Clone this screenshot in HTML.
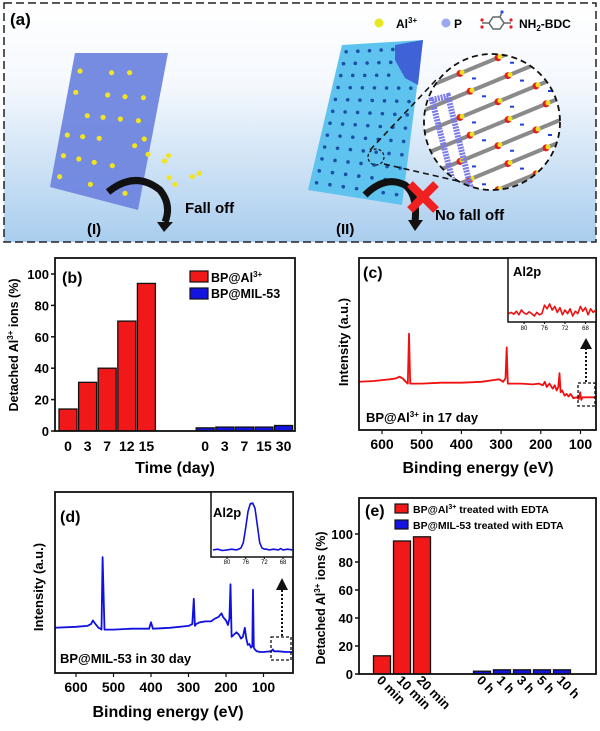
<!DOCTYPE html>
<html><head><meta charset="utf-8">
<style>
html,body{margin:0;padding:0;background:#fff;}
svg{display:block;font-family:"Liberation Sans",Arial,sans-serif;font-weight:bold;}
</style></head>
<body>
<svg id="fig" width="600" height="731" viewBox="0 0 600 731" xmlns="http://www.w3.org/2000/svg">
<defs>
<linearGradient id="bgA" x1="0" y1="0" x2="0" y2="1">
<stop offset="0" stop-color="#ffffff"/><stop offset="0.35" stop-color="#f4f8fd"/><stop offset="1" stop-color="#a9cdee"/>
</linearGradient>
<clipPath id="zoomClip"><circle cx="492" cy="122" r="68"/></clipPath>
<clipPath id="clipB"><rect x="55" y="258" width="240" height="173"/></clipPath>
<clipPath id="clipC"><rect x="359" y="258" width="237" height="172"/></clipPath>
<clipPath id="clipD"><rect x="55" y="492" width="238" height="181"/></clipPath>
<clipPath id="clipCi"><rect x="508" y="258" width="88" height="64"/></clipPath>
<clipPath id="clipDi"><rect x="211" y="492" width="82" height="65"/></clipPath>
<marker id="arrowHead" markerWidth="6" markerHeight="6" refX="3" refY="3" orient="auto"><path d="M0,0 L6,3 L0,6 z" fill="#000"/></marker>
</defs>

<!-- Panel (a) illustration -->
<g id="panelA">
<rect x="4" y="3" width="592" height="239" fill="url(#bgA)" stroke="#222" stroke-width="1.5" stroke-dasharray="8,4"/>
<text x="10" y="25" font-size="17">(a)</text>
<polygon points="75,53 168,53 138,210 50,187" fill="#6f86de" opacity="0.95"/>
<g id="leftDots"></g>
<path d="M108,192 Q135,170 160,190 Q172,205 165,222" fill="none" stroke="#111" stroke-width="7"/>
<polygon points="157,222 173,222 164,232" fill="#111"/>
<text x="185" y="213" font-size="15">Fall off</text>
<text x="87" y="234" font-size="15">(I)</text>

<polygon points="342,45 423,40 402,205 308,190" fill="#5ec3ef"/>
<polygon points="395,45 423,40 418,85 405,78 395,60" fill="#3f63d6"/>
<g id="rightDots"></g>
<circle cx="376" cy="157" r="8" fill="none" stroke="#111" stroke-width="1.2" stroke-dasharray="3,2"/>
<line x1="370" y1="150" x2="436" y2="80" stroke="#111" stroke-width="1.5" stroke-dasharray="6,4"/>
<line x1="384" y1="164" x2="462" y2="182" stroke="#111" stroke-width="1.5" stroke-dasharray="6,4"/>
<g clip-path="url(#zoomClip)">
<circle cx="492" cy="122" r="68" fill="#ffffff"/>
<g id="strands"></g>
</g>
<circle cx="492" cy="122" r="68" fill="none" stroke="#111" stroke-width="1.8" stroke-dasharray="6,4"/>
<path d="M365,195 Q385,175 405,185 Q418,195 415,222" fill="none" stroke="#111" stroke-width="7"/>
<polygon points="408,220 423,220 415,231" fill="#111"/>
<g>
<line x1="410" y1="184" x2="436" y2="210" stroke="#f02020" stroke-width="8"/>
<line x1="436" y1="184" x2="410" y2="210" stroke="#f02020" stroke-width="8"/>
</g>
<text x="435" y="220" font-size="15">No fall off</text>
<text x="336" y="234" font-size="15">(II)</text>
<circle cx="379" cy="23" r="4.5" fill="#e8e820"/>
<text x="396" y="28" font-size="12">Al<tspan font-size="8" dy="-5">3+</tspan></text>
<circle cx="446" cy="23" r="4.5" fill="#9aa8f0"/>
<text x="454" y="28" font-size="12">P</text>
<g stroke="#666" stroke-width="1.5" fill="none">
<polygon points="493,17 500,17 504,23 500,29 493,29 489,23"/>
<line x1="482" y1="23" x2="489" y2="23"/><line x1="504" y1="23" x2="511" y2="23"/><line x1="500" y1="17" x2="502" y2="12"/>
<circle cx="482" cy="20" r="1.6" fill="#e02020" stroke="none"/><circle cx="482" cy="27" r="1.6" fill="#e02020" stroke="none"/>
<circle cx="511" cy="20" r="1.6" fill="#e02020" stroke="none"/><circle cx="511" cy="27" r="1.6" fill="#e02020" stroke="none"/>
<circle cx="502" cy="12" r="1.6" fill="#3050e0" stroke="none"/>
</g>
<text x="519" y="28" font-size="12">NH<tspan font-size="8" dy="3">2</tspan><tspan dy="-3">-BDC</tspan></text>
</g>

<!-- Panel (b) -->
<g id="panelB">
<g id="bBars" clip-path="url(#clipB)"></g>
<rect x="55" y="258" width="240" height="173" fill="none" stroke="#111" stroke-width="1.8"/>
<g id="bAxes"></g>
<text x="62" y="283" font-size="16">(b)</text>
<rect x="190" y="271" width="18" height="11" fill="#f01818" stroke="#111" stroke-width="1.2"/>
<text x="211" y="282" font-size="12.5">BP@Al<tspan font-size="8" dy="-5">3+</tspan></text>
<rect x="190" y="288" width="18" height="11" fill="#1414e0" stroke="#111" stroke-width="1.2"/>
<text x="211" y="298" font-size="12.5">BP@MIL-53</text>
<text x="175" y="473" font-size="16" text-anchor="middle">Time  (day)</text>
<text transform="translate(18,345) rotate(-90)" font-size="12.5" text-anchor="middle">Detached Al<tspan font-size="8" dy="-5">3+</tspan><tspan dy="5"> ions  (%)</tspan></text>
</g>

<!-- Panel (c) -->
<g id="panelC">
<g id="cLine" clip-path="url(#clipC)"></g>
<rect x="359" y="258" width="237" height="172" fill="none" stroke="#111" stroke-width="1.8"/>
<g id="cAxes"></g>
<text x="363" y="278" font-size="16">(c)</text>
<rect x="508" y="258" width="88" height="64" fill="#fff" stroke="#111" stroke-width="1.5"/>
<g id="cInset" clip-path="url(#clipCi)"></g>
<g id="cInsetAxes"></g>
<text x="513" y="276" font-size="13">Al2p</text>
<rect x="578" y="383" width="17" height="23" fill="none" stroke="#111" stroke-width="1.3" stroke-dasharray="3,2"/>
<line x1="586" y1="382" x2="586" y2="347" stroke="#111" stroke-width="2" stroke-dasharray="2,2"/>
<polygon points="580,349 592,349 586,338" fill="#111"/>
<text x="366" y="422" font-size="13">BP@Al<tspan font-size="8" dy="-5">3+</tspan><tspan dy="5"> in 17 day</tspan></text>
<text x="478" y="473" font-size="16" text-anchor="middle">Binding energy (eV)</text>
<text transform="translate(348,342) rotate(-90)" font-size="13" text-anchor="middle">Intensity (a.u.)</text>
</g>

<!-- Panel (d) -->
<g id="panelD">
<g id="dLine" clip-path="url(#clipD)"></g>
<rect x="55" y="492" width="238" height="181" fill="none" stroke="#111" stroke-width="1.8"/>
<g id="dAxes"></g>
<text x="60" y="522" font-size="16">(d)</text>
<rect x="211" y="492" width="82" height="65" fill="#fff" stroke="#111" stroke-width="1.5"/>
<g id="dInset" clip-path="url(#clipDi)"></g>
<g id="dInsetAxes"></g>
<text x="213" y="517" font-size="13">Al2p</text>
<rect x="271" y="637" width="20" height="23" fill="none" stroke="#111" stroke-width="1.3" stroke-dasharray="3,2"/>
<line x1="282" y1="636" x2="282" y2="588" stroke="#111" stroke-width="2" stroke-dasharray="2,2"/>
<polygon points="276,590 288,590 282,578" fill="#111"/>
<text x="60" y="663" font-size="13">BP@MIL-53 in 30 day</text>
<text x="168" y="717" font-size="16" text-anchor="middle">Binding energy (eV)</text>
<text transform="translate(43,587) rotate(-90)" font-size="13" text-anchor="middle">Intensity (a.u.)</text>
</g>

<!-- Panel (e) -->
<g id="panelE">
<g id="eBars"></g>
<rect x="359" y="498" width="237" height="176" fill="none" stroke="#111" stroke-width="1.8"/>
<g id="eAxes"></g>
<text x="365" y="516" font-size="16">(e)</text>
<rect x="395" y="504" width="13" height="9" fill="#f01818" stroke="#111" stroke-width="1.2"/>
<text x="413" y="513" font-size="10.5">BP@Al<tspan font-size="7" dy="-4">3+</tspan><tspan dy="4"> treated with EDTA</tspan></text>
<rect x="395" y="520" width="13" height="9" fill="#1414e0" stroke="#111" stroke-width="1.2"/>
<text x="413" y="529" font-size="10.5">BP@MIL-53 treated with EDTA</text>
<text transform="translate(325,598) rotate(-90)" font-size="12.5" text-anchor="middle">Detached Al<tspan font-size="8" dy="-5">3+</tspan><tspan dy="5"> ions  (%)</tspan></text>
</g>
</svg>

<script>
// ---- chart data ----
const bCategoriesRed = ['0','3','7','12','15'];
const bValuesRed = [14, 31, 40, 70, 94];
const bCategoriesBlue = ['0','3','7','15','30'];
const bValuesBlue = [2, 2.5, 2.5, 2.5, 3.5];
const bYTicks = [0, 20, 40, 60, 80, 100];

const cEnergy = [660,620,600,580,565,556,548,540,535,532,529,524,500,450,400,350,320,305,295,289,286,283,278,250,220,205,195,190,185,178,170,165,160,156,153,150,146,140,135,130,125,118,110,104,101,98,95,85,70,55];
const cIntensity = [28,28.5,29,29.5,30,31,30,28,27,56,27,27,27,27.5,27.5,28,29,29.5,28,30,48,27,27,27,26.5,27,26,28,25,27,24,26,23,25,33,22,23,20,21,19.5,21,18.5,19,18,22,17.5,19,19,19,19];
const cXTicks = [600, 500, 400, 300, 200, 100];

const cInsetEnergy = [83,82.5,82,81.5,81,80.5,80,79.5,79,78.5,78,77.5,77,76.5,76,75.5,75,74.5,74,73.5,73,72.5,72,71.5,71,70.5,70,69.5,69,68.5,68,67.5,67,66.5,66];
const cInsetIntensity = [14,16,13,18,12,20,15,13,17,14,10,16,12,14,28,22,30,20,26,16,24,12,20,14,22,10,18,14,26,18,24,12,22,16,20];
const cInsetTicks = [80, 76, 72, 68];

const dEnergy = [660,600,570,560,555,548,540,535,532,529,524,500,450,405,400,395,350,300,290,286,283,280,270,255,240,230,220,212,208,200,195,191,188,185,180,172,165,160,155,150,146,142,138,133,130,128,126,123,118,110,100,90,80,75,72,60,40,20];
const dIntensity = [25,25.5,26,27,29,27,25,24.5,24,64,24,24,24.5,24.5,28,24.5,25,26,27,41,26,27,28,28.5,28.5,30,31,33,31,29,26.5,30,49,20,21,22.5,21,19,20,25,19,15.5,16,14,15,46,14,13,12,11.6,11.6,11.8,12,13,12,12,11.6,11.6];
const dXTicks = [600, 500, 400, 300, 200, 100];

const dInsetEnergy = [83,82,81,80,79,78,77.5,77,76.5,76,75.5,75,74.5,74,73.5,73,72.5,72,71.5,71,70,69,68.5,68,67,66];
const dInsetIntensity = [11,12,10,11,12,11,12,14,22,45,70,82,83,75,48,22,14,12,12,11,12,11,13,11,12,11];
const dInsetTicks = [80, 76, 72, 68];

const eCategoriesRed = ['0 min','10 min','20 min'];
const eValuesRed = [13, 95, 98];
const eCategoriesBlue = ['0 h','1 h','3 h','5 h','10 h'];
const eValuesBlue = [2, 3, 3, 3, 3];
const eYTicks = [0, 20, 40, 60, 80, 100];

// ---- helpers ----
const NS = 'http://www.w3.org/2000/svg';
function mk(tag, attrs, parent) {
  const el = document.createElementNS(NS, tag);
  for (const k in attrs) el.setAttribute(k, attrs[k]);
  parent.appendChild(el);
  return el;
}
const $ = id => document.getElementById(id);

// axis functions
const xB = slot => 68 + slot * 19.6;
const yB = v => 431 - v * 1.57;
const xC = e => 382 + (600 - e) * 0.397;
const yC = v => 430 - v * 1.72;
const xCi = e => 524 + (80 - e) * 5.125;
const yCi = v => 322 - v * 0.6;
const xD = e => 76 + (600 - e) * 0.375;
const yD = v => 673 - v * 1.81;
const xDi = e => 227 + (80 - e) * 4.67;
const yDi = v => 557 - v * 0.65;
const xE = slot => 382 + slot * 20;
const yE = v => 674 - v * 1.4;

// ---- panel b ----
bValuesRed.forEach((v, i) => {
  const r = mk('rect', {x: xB(i) - 9, y: yB(v), width: 18, height: yB(0) - yB(v), fill: '#f01818', stroke: '#111', 'stroke-width': 1.3}, $('bBars'));
  
  
  const t = mk('text', {x: xB(i), y: 451, 'font-size': 14, 'text-anchor': 'middle'}, $('bAxes'));
  t.textContent = bCategoriesRed[i];
  
  
});
bValuesBlue.forEach((v, i) => {
  const r = mk('rect', {x: xB(i + 7) - 9, y: yB(v), width: 18, height: yB(0) - yB(v), fill: '#1414e0', stroke: '#111', 'stroke-width': 1.3}, $('bBars'));
  
  
  const t = mk('text', {x: xB(i + 7), y: 451, 'font-size': 14, 'text-anchor': 'middle'}, $('bAxes'));
  t.textContent = bCategoriesBlue[i];
  
  
});
bYTicks.forEach(v => {
  const l = mk('line', {x1: 51, x2: 55, y1: yB(v), y2: yB(v), stroke: '#111', 'stroke-width': 1.5}, $('bAxes'));
  
  
  const t = mk('text', {x: 49, y: yB(v) + 5, 'font-size': 13, 'text-anchor': 'end'}, $('bAxes'));
  t.textContent = v;
  
  
});

// ---- line helper ----
function drawLine(xs, ys, fx, fy, parent, color, w, name) {
  const d = xs.map((e, i) => (i ? 'L' : 'M') + fx(e).toFixed(1) + ',' + fy(ys[i]).toFixed(1)).join(' ');
  const p = mk('path', {d: d, fill: 'none', stroke: color, 'stroke-width': w, 'stroke-linejoin': 'round'}, parent);
  
  
}
function xTicks(ticks, fx, parent, yAxis, yLab, fs, len) {
  ticks.forEach(v => {
    const l = mk('line', {x1: fx(v), x2: fx(v), y1: yAxis, y2: yAxis + len, stroke: '#111', 'stroke-width': 1.2}, parent);
    
    
    const t = mk('text', {x: fx(v), y: yLab, 'font-size': fs, 'text-anchor': 'middle', 'font-weight': fs < 8 ? 'normal' : 'bold'}, parent);
    t.textContent = v;
    
    
  });
}

// ---- panel c ----
drawLine(cEnergy, cIntensity, xC, yC, $('cLine'), '#f01010', 1.8, 'spectrum-c');
xTicks(cXTicks, xC, $('cAxes'), 430, 449, 14, 4);
drawLine(cInsetEnergy, cInsetIntensity, xCi, yCi, $('cInset'), '#f01010', 1.6, 'inset-spectrum-c');
xTicks(cInsetTicks, xCi, $('cInsetAxes'), 322, 330, 6, 2);

// ---- panel d ----
drawLine(dEnergy, dIntensity, xD, yD, $('dLine'), '#1010e0', 1.8, 'spectrum-d');
xTicks(dXTicks, xD, $('dAxes'), 673, 692, 14, 4);
drawLine(dInsetEnergy, dInsetIntensity, xDi, yDi, $('dInset'), '#1010e0', 1.6, 'inset-spectrum-d');
xTicks(dInsetTicks, xDi, $('dInsetAxes'), 557, 564, 6, 2);

// ---- panel e ----
eValuesRed.forEach((v, i) => {
  const r = mk('rect', {x: xE(i) - 8.5, y: yE(v), width: 17, height: yE(0) - yE(v), fill: '#f01818', stroke: '#111', 'stroke-width': 1.3}, $('eBars'));
  
  
  const t = mk('text', {transform: 'translate(' + (xE(i) - 6) + ',681) rotate(45)', 'font-size': 13}, $('eAxes'));
  t.textContent = eCategoriesRed[i];
  
  
});
eValuesBlue.forEach((v, i) => {
  const r = mk('rect', {x: xE(i + 5) - 8.5, y: yE(v), width: 17, height: yE(0) - yE(v), fill: '#1414e0', stroke: '#111', 'stroke-width': 1.3}, $('eBars'));
  
  
  const t = mk('text', {transform: 'translate(' + (xE(i + 5) - 6) + ',681) rotate(45)', 'font-size': 13}, $('eAxes'));
  t.textContent = eCategoriesBlue[i];
  
  
});
eYTicks.forEach(v => {
  const l = mk('line', {x1: 355, x2: 359, y1: yE(v), y2: yE(v), stroke: '#111', 'stroke-width': 1.5}, $('eAxes'));
  
  
  const t = mk('text', {x: 353, y: yE(v) + 5, 'font-size': 13, 'text-anchor': 'end'}, $('eAxes'));
  t.textContent = v;
  
  
});

// ---- panel a decoration ----
const illusDots = [[208,213],[290,218],[337,218],[197,277],[280,285],[325,290],[373,293],[227,347],[268,352],[313,357],[360,362],[175,405],[215,410],[258,415],[375,417],[350,437],[165,467],[205,477],[245,487],[292,497],[155,530],[235,553],[325,580],[385,463],[438,467],[428,483],[440,533],[455,553],[500,530],[518,520]];
illusDots.forEach(p => {
  const c = mk('circle', {cx: p[0] / 2.6, cy: p[1] / 3, r: 2.6, fill: '#f2e41e'}, $('leftDots'));
  
  
});
for (let r = 0; r < 12; r++) {
  for (let c = 0; c < 7; c++) {
    const u = (c + 0.5) / 7, v = (r + 0.6) / 12.3;
    const x = 342 + (423 - 342) * u + ((308 - 342) + ((402 - 423) - (308 - 342)) * u) * v;
    const y = 45 + (40 - 45) * u + ((190 - 45) + ((205 - 40) - (190 - 45)) * u) * v;
    if (r < 3 && c > 4) continue;
    const d = mk('circle', {cx: x, cy: y, r: 1.8, fill: '#1d4fa6'}, $('rightDots'));
    
    
  }
}
const strands = $('strands');
for (let k = 0; k < 7; k++) {
  const y0 = 60 + k * 22;
  const l = mk('line', {x1: 420, y1: y0 + 30, x2: 565, y2: y0 - 30, stroke: '#8a8a8a', 'stroke-width': 4}, strands);
  
  
  for (let j = 0; j < 3; j++) {
    const x = 460 + j * 38 + (k % 2) * 10, y = y0 + 30 - (x - 420) * 60 / 145;
    const a = mk('circle', {cx: x, cy: y, r: 3.5, fill: '#e02020'}, strands);
    
    
    const b = mk('circle', {cx: x + 2, cy: y - 1, r: 2.5, fill: '#f0e020'}, strands);
    
    
    const n = mk('rect', {x: x + 12, y: y + 4, width: 4, height: 2, fill: '#2040e0'}, strands);
    
    
  }
}
const bp = mk('path', {d: 'M432,100 L448,96 L470,185 L455,190 Z', fill: 'none', stroke: '#7a7ae8', 'stroke-width': 6, 'stroke-dasharray': '2,1'}, strands);


</script>
</body></html>
